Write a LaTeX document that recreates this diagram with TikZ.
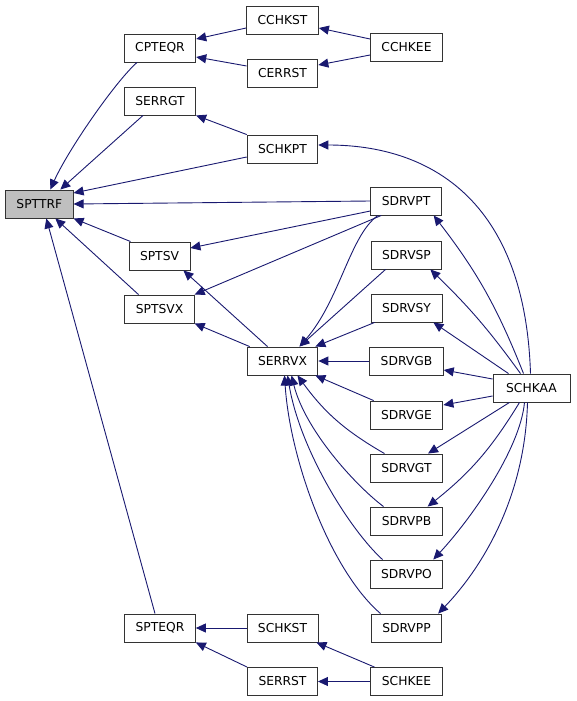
\documentclass[tikz,border=0pt]{standalone}
\usepackage{fontspec}
\setmainfont{DejaVu Sans}
\usetikzlibrary{arrows.meta}
\definecolor{callblue}{HTML}{191970}

\begin{document}
\begin{tikzpicture}[x=1pt, y=-1pt,
    fn/.style={draw=black!80, line width=0.9pt, fill=white, minimum height=28pt,
        inner xsep=11pt, font=\fontsize{12.3}{14}\selectfont},
    call/.style={draw=callblue, line width=0.9pt, -{Triangle[length=10pt,width=9pt]}}]
    \useasboundingbox (0,0) rectangle (576,701);
    \node[fn, fill=black!25] (SPTTRF) at (39.3,204) {SPTTRF};
    \node[fn] (CPTEQR) at (160,48) {CPTEQR};
    \node[fn] (SERRGT) at (160,101) {SERRGT};
    \node[fn] (SPTSV) at (159.5,256) {SPTSV};
    \node[fn] (SPTSVX) at (159.5,309) {SPTSVX};
    \node[fn] (SPTEQR) at (160,628) {SPTEQR};
    \node[fn] (CCHKST) at (282.5,20) {CCHKST};
    \node[fn] (CERRST) at (282.5,73) {CERRST};
    \node[fn] (SCHKPT) at (282.5,149) {SCHKPT};
    \node[fn] (SERRVX) at (282.5,361) {SERRVX};
    \node[fn] (SCHKST) at (282.5,628) {SCHKST};
    \node[fn] (SERRST) at (282.5,681.5) {SERRST};
    \node[fn] (CCHKEE) at (406.5,47) {CCHKEE};
    \node[fn] (SDRVPT) at (406,201) {SDRVPT};
    \node[fn] (SDRVSP) at (406.5,255) {SDRVSP};
    \node[fn] (SDRVSY) at (406.5,308) {SDRVSY};
    \node[fn] (SDRVGB) at (406.5,361) {SDRVGB};
    \node[fn] (SDRVGE) at (406.5,415) {SDRVGE};
    \node[fn] (SDRVGT) at (406.5,468) {SDRVGT};
    \node[fn] (SDRVPB) at (406.5,521) {SDRVPB};
    \node[fn] (SDRVPO) at (406.5,574) {SDRVPO};
    \node[fn] (SDRVPP) at (406.5,628) {SDRVPP};
    \node[fn] (SCHKEE) at (406.5,681.5) {SCHKEE};
    \node[fn, minimum width=77pt] (SCHKAA) at (531.5,388) {SCHKAA};
    % callers of SPTTRF
    \draw[call] ([xshift=-23pt]CPTEQR.south) .. controls (115,82) and (68,150) .. ([xshift=11pt]SPTTRF.north);
    \draw[call] ([xshift=-17pt]SERRGT.south) -- ([xshift=21pt]SPTTRF.north);
    \draw[call] ([yshift=-8pt]SCHKPT.west) -- ([yshift=11pt]SPTTRF.east);
    \draw[call] (SDRVPT.west) -- (SPTTRF.east);
    \draw[call] ([xshift=2pt]SPTSV.north west) -- (SPTTRF.south east);
    \draw[call] ([xshift=-21pt]SPTSVX.north) -- ([xshift=16pt]SPTTRF.south);
    \draw[call] ([xshift=-5pt]SPTEQR.north) -- ([xshift=7pt]SPTTRF.south);
    \draw[call] ([yshift=-8pt]CCHKST.west) -- ([yshift=9pt]CPTEQR.east);
    \draw[call] ([yshift=7pt]CERRST.west) -- ([yshift=-9pt]CPTEQR.east);
    \draw[call] ([yshift=8pt]CCHKEE.west) -- ([yshift=-8pt]CCHKST.east);
    \draw[call] ([yshift=-8pt]CCHKEE.west) -- ([yshift=8pt]CERRST.east);
    \draw[call] (SCHKPT.north west) -- (SERRGT.south east);
    \draw[call] ([xshift=-1pt]SCHKAA.north) .. controls (525,200) and (430,145) .. ([yshift=4pt]SCHKPT.east);
    \draw[call] ([yshift=-10pt]SDRVPT.west) -- ([yshift=8pt]SPTSV.east);
    \draw[call] ([xshift=11pt]SDRVPT.south west) -- (SPTSVX.north east);
    \draw[call] ([xshift=-28pt]SDRVPT.south) .. controls (350,235) and (340,300) .. ([xshift=17pt]SERRVX.north);
    \draw[call] ([xshift=-15pt]SERRVX.north) -- ([xshift=-7pt]SPTSV.south east);
    \draw[call] ([xshift=3pt]SERRVX.north west) -- (SPTSVX.south east);
    % callers of SERRVX
    \draw[call] ([xshift=-21pt]SDRVSP.south) -- ([xshift=17pt]SERRVX.north);
    \draw[call] ([xshift=4pt]SDRVSY.south west) -- ([xshift=-3pt]SERRVX.north east);
    \draw[call] (SDRVGB.west) -- (SERRVX.east);
    \draw[call] ([xshift=4pt]SDRVGE.north west) -- ([xshift=-3pt]SERRVX.south east);
    \draw[call] ([xshift=-22pt]SDRVGT.north) to[bend left=12] ([xshift=15pt]SERRVX.south);
    \draw[call] ([xshift=-23pt]SDRVPB.north) .. controls (355,485) and (305,430) .. ([xshift=9pt]SERRVX.south);
    \draw[call] ([xshift=-24pt]SDRVPO.north) .. controls (350,530) and (300,450) .. ([xshift=5pt]SERRVX.south);
    \draw[call] ([xshift=-26pt]SDRVPP.north) .. controls (330,570) and (290,460) .. ([xshift=2pt]SERRVX.south);
    % SCHKAA
    \draw[call] ([xshift=-8pt]SCHKAA.north) to[bend right=8] ([xshift=-8pt]SDRVPT.south east);
    \draw[call] ([xshift=-11pt]SCHKAA.north) to[bend right=5] ([xshift=-12pt]SDRVSP.south east);
    \draw[call] ([xshift=-23pt]SCHKAA.north) -- ([xshift=-9pt]SDRVSY.south east);
    \draw[call] ([yshift=9pt]SCHKAA.west) -- ([yshift=-9pt]SDRVGB.east);
    \draw[call] ([yshift=-8pt]SCHKAA.west) -- ([yshift=10pt]SDRVGE.east);
    \draw[call] ([xshift=-22pt]SCHKAA.south) -- ([xshift=-15pt]SDRVGT.north east);
    \draw[call] ([xshift=-12pt]SCHKAA.south) to[bend left=10] ([xshift=-15pt]SDRVPB.north east);
    \draw[call] ([xshift=-7pt]SCHKAA.south) .. controls (520,450) and (470,520) .. ([xshift=-10pt]SDRVPO.north east);
    \draw[call] ([xshift=-4pt]SCHKAA.south) .. controls (525,500) and (480,570) .. ([xshift=-4pt]SDRVPP.north east);
    \draw[call] (SCHKST.west) -- (SPTEQR.east);
    \draw[call] (SERRST.north west) -- (SPTEQR.south east);
    \draw[call] ([xshift=4pt]SCHKEE.north west) -- ([xshift=-2pt]SCHKST.south east);
    \draw[call] (SCHKEE.west) -- (SERRST.east);
\end{tikzpicture}
\end{document}
